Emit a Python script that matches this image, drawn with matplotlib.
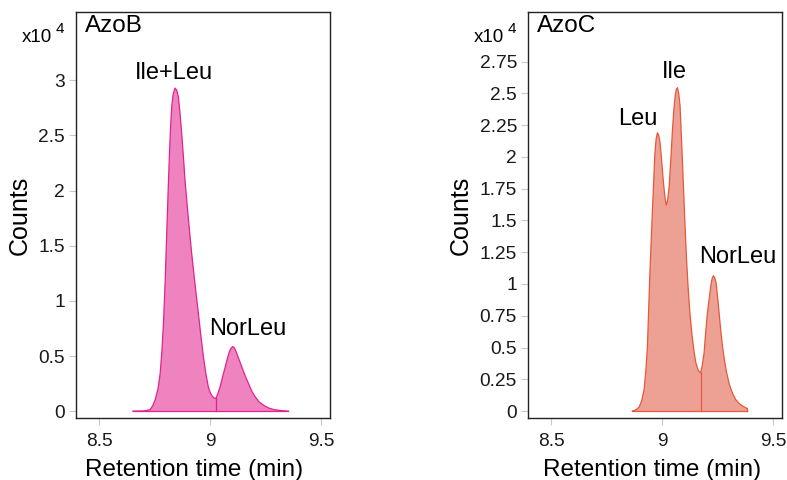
import matplotlib
matplotlib.use("Agg")
import matplotlib.pyplot as plt

plt.rcParams["font.family"] = ["Liberation Sans", "DejaVu Sans"]

# AzoB chromatogram (time in min, counts in units of 1e4)
azob_time = [8.652, 8.700, 8.720, 8.730, 8.742, 8.752, 8.765, 8.775, 8.783, 8.790,
             8.798, 8.805, 8.811, 8.817, 8.822, 8.827, 8.834, 8.842, 8.850, 8.857,
             8.864, 8.872, 8.880, 8.887, 8.897, 8.907, 8.916, 8.925, 8.936, 8.947,
             8.958, 8.970, 8.981, 8.992, 9.000, 9.008, 9.017, 9.026, 9.035, 9.045,
             9.056, 9.068, 9.078, 9.087, 9.094, 9.101, 9.109, 9.117, 9.130, 9.143,
             9.158, 9.173, 9.188, 9.203, 9.220, 9.240, 9.262, 9.285, 9.320, 9.353]
azob_counts = [0.0, 0.002, 0.008, 0.015, 0.05, 0.10, 0.20, 0.34, 0.55, 0.80,
               1.20, 1.64, 2.00, 2.34, 2.58, 2.76, 2.88, 2.93, 2.91, 2.85,
               2.71, 2.52, 2.30, 2.09, 1.86, 1.64, 1.45, 1.28, 1.08, 0.89,
               0.69, 0.49, 0.34, 0.22, 0.17, 0.14, 0.12, 0.115, 0.16, 0.22,
               0.31, 0.40, 0.48, 0.54, 0.57, 0.585, 0.575, 0.54, 0.47, 0.40,
               0.32, 0.25, 0.18, 0.13, 0.085, 0.054, 0.03, 0.015, 0.005, 0.0]
azob_split = 9.026

# AzoC chromatogram
azoc_time = [8.866, 8.880, 8.896, 8.908, 8.919, 8.927, 8.934, 8.939, 8.944, 8.950,
             8.956, 8.962, 8.967, 8.973, 8.979, 8.985, 8.991, 8.998, 9.006, 9.013,
             9.019, 9.025, 9.032, 9.040, 9.047, 9.053, 9.059, 9.064, 9.069, 9.075,
             9.081, 9.086, 9.092, 9.098, 9.104, 9.110, 9.117, 9.125, 9.134, 9.143,
             9.152, 9.163, 9.174, 9.181, 9.189, 9.196, 9.204, 9.212, 9.219, 9.225,
             9.231, 9.237, 9.243, 9.250, 9.257, 9.264, 9.272, 9.281, 9.291, 9.303,
             9.317, 9.332, 9.347, 9.362, 9.377, 9.384]
azoc_counts = [0.0, 0.008, 0.03, 0.08, 0.17, 0.32, 0.51, 0.77, 1.03, 1.30,
               1.56, 1.80, 2.01, 2.14, 2.19, 2.17, 2.11, 1.97, 1.80, 1.68,
               1.62, 1.66, 1.77, 2.00, 2.22, 2.37, 2.48, 2.53, 2.545, 2.50,
               2.40, 2.20, 1.95, 1.69, 1.43, 1.20, 0.98, 0.78, 0.61, 0.48,
               0.38, 0.32, 0.30, 0.36, 0.455, 0.61, 0.77, 0.88, 0.98, 1.04,
               1.065, 1.05, 1.01, 0.90, 0.77, 0.64, 0.51, 0.40, 0.30, 0.21,
               0.14, 0.09, 0.06, 0.04, 0.026, 0.02]
azoc_split = 9.174

panels = [
    dict(name="AzoB", t=azob_time, c=azob_counts, split=azob_split,
         fill="#ee83bf", edge="#e0238f", ylim=(-0.063, 3.62),
         yticks=[0, 0.5, 1, 1.5, 2, 2.5, 3],
         yticklabels=["0", "0.5", "1", "1.5", "2", "2.5", "3"],
         left=0.0966, xlabel_x=0.464,
         peaks=[("Ile+Leu", 8.835, 3.01), ("NorLeu", 9.17, 0.69)]),
    dict(name="AzoC", t=azoc_time, c=azoc_counts, split=azoc_split,
         fill="#eda194", edge="#e6573b", ylim=(-0.055, 3.14),
         yticks=[0, 0.25, 0.5, 0.75, 1, 1.25, 1.5, 1.75, 2, 2.25, 2.5, 2.75],
         yticklabels=["0", "0.25", "0.5", "0.75", "1", "1.25", "1.5", "1.75",
                      "2", "2.25", "2.5", "2.75"],
         left=0.6709, xlabel_x=0.487,
         peaks=[("Leu", 8.89, 2.25), ("Ile", 9.057, 2.62), ("NorLeu", 9.341, 1.165)]),
]

fig = plt.figure(figsize=(7.87, 4.80), dpi=100)

for p in panels:
    ax = fig.add_axes([p["left"], 0.129, 0.3227, 0.846])
    ax.fill_between(p["t"], p["c"], 0, facecolor=p["fill"], edgecolor="none")
    ax.plot(p["t"], p["c"], color=p["edge"], lw=0.9, solid_joinstyle="round")
    ax.plot([p["t"][0], p["t"][-1]], [0, 0], color=p["edge"], lw=0.9)
    ax.plot([p["t"][-1], p["t"][-1]], [0, p["c"][-1]], color=p["edge"], lw=0.9)
    i = p["t"].index(p["split"])
    ax.plot([p["split"], p["split"]], [0, p["c"][i]], color=p["edge"], lw=0.9)

    ax.set_xlim(8.396, 9.54)
    ax.set_ylim(*p["ylim"])
    ax.set_xticks([8.5, 9, 9.5])
    ax.set_xticklabels(["8.5", "9", "9.5"])
    ax.set_yticks(p["yticks"])
    ax.set_yticklabels(p["yticklabels"])
    ax.tick_params(axis="both", direction="out", length=5, width=0.8,
                   color="#c8c8c8", labelsize=13.8, labelcolor="#1a1a1a", pad=3)
    ax.tick_params(axis="x", pad=6)
    for s in ax.spines.values():
        s.set_linewidth(1.0)
        s.set_color("#222222")

    ax.set_xlabel("Retention time (min)", fontsize=17.5, labelpad=6)
    ax.xaxis.label.set_x(p["xlabel_x"])
    ax.set_ylabel("Counts", fontsize=18, labelpad=5)

    ax.text(0.036, 0.951, p["name"], transform=ax.transAxes, fontsize=17.5,
            ha="left", va="baseline")
    for label, x, y in p["peaks"]:
        ax.text(x, y, label, fontsize=17, ha="center", va="baseline")

    ax.text(-0.095, 0.927, "x10", transform=ax.transAxes, fontsize=13.5,
            ha="right", va="baseline")
    ax.text(-0.079, 0.948, "4", transform=ax.transAxes, fontsize=11,
            ha="left", va="baseline")

fig.savefig("out.png", dpi=100)
